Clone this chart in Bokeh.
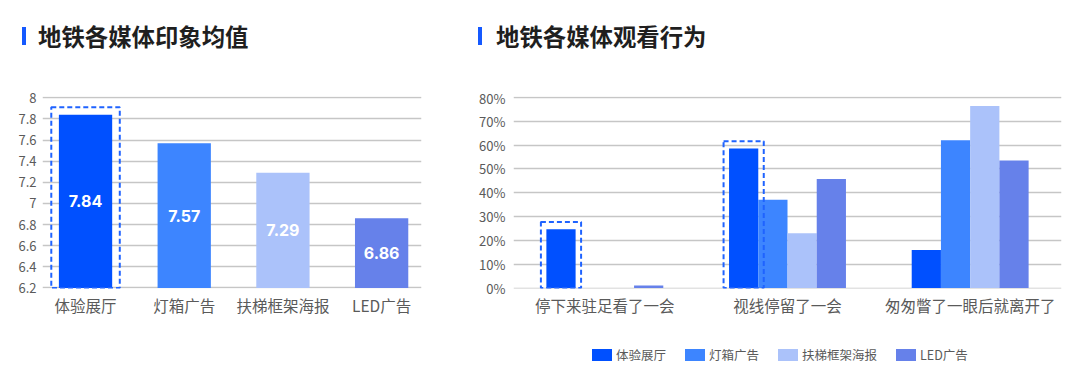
from bokeh.plotting import figure
from bokeh.models import (ColumnDataSource, FixedTicker, FactorRange, Range1d, Div)
from bokeh.transform import dodge
from bokeh.layouts import row, column
from bokeh.embed import file_html
from bokeh.resources import INLINE
from bokeh.core.properties import value

# ---------------- data ----------------
title_left = "地铁各媒体印象均值"
title_right = "地铁各媒体观看行为"

media = ["体验展厅", "灯箱广告", "扶梯框架海报", "LED广告"]
impression = [7.84, 7.57, 7.29, 6.86]
imp_base = 6.2
imp_ticks = [6.2, 6.4, 6.6, 6.8, 7.0, 7.2, 7.4, 7.6, 7.8, 8.0]
imp_tick_labels = ["6.2", "6.4", "6.6", "6.8", "7", "7.2", "7.4", "7.6", "7.8", "8"]
imp_highlight = [0]

behaviors = ["停下来驻足看了一会", "视线停留了一会", "匆匆瞥了一眼后就离开了"]
exp_hall = [24.7, 58.6, 16.0]
lightbox = [0.0, 37.1, 62.0]
escalator = [0.0, 23.0, 76.4]
led = [1.1, 45.8, 53.5]
pct_ticks = [0, 10, 20, 30, 40, 50, 60, 70, 80]
pct_tick_labels = ["0%", "10%", "20%", "30%", "40%", "50%", "60%", "70%", "80%"]
beh_highlight = [0, 1]   # groups where 体验展厅 is highlighted

colors = ["#0050FF", "#3D85FF", "#ABC2FA", "#6681EA"]
accent = "#1F63FF"
FONT = "Noto Sans CJK SC"
GRAY = "#5A5A5A"
GRID = "#C6C6C6"


def style(p, ystand):
    p.outline_line_color = None
    p.xgrid.grid_line_color = None
    p.ygrid.grid_line_color = GRID
    p.ygrid.grid_line_width = 1.3
    for ax in (p.xaxis[0], p.yaxis[0]):
        ax.axis_line_color = None
        ax.major_tick_line_color = None
        ax.minor_tick_line_color = None
        ax.major_tick_out = 0
        ax.major_tick_in = 0
        ax.minor_tick_out = 0
        ax.major_label_text_font = FONT
        ax.major_label_text_color = GRAY
    p.xaxis.major_label_text_font_size = "15.5px"
    p.xaxis.major_label_standoff = 5
    p.yaxis.major_label_text_font_size = "13px"
    p.yaxis.major_label_standoff = ystand


def title_div(text, width, bar_x, text_x):
    html = (
        f'<div style="position:relative;width:{width}px;height:88px;">'
        f'<div style="position:absolute;left:{bar_x}px;top:27px;width:4px;height:18px;'
        f'background:#1559FF;"></div>'
        f'<div style="position:absolute;left:{text_x}px;top:20px;height:32px;line-height:32px;'
        f"font-family:'{FONT}';font-weight:bold;font-size:23.4px;color:#1F1F1F;"
        f'white-space:nowrap;">{text}</div></div>'
    )
    return Div(text=html, width=width, height=88, margin=(0, 0, 0, 0))


def legend_div(labels, cols, width, left):
    items = "".join(
        f'<div style="display:flex;align-items:center;margin-right:19px;">'
        f'<span style="display:inline-block;width:20px;height:12px;background:{c};"></span>'
        f'<span style="margin-left:4px;font-family:\'{FONT}\';font-size:12.5px;'
        f'color:{GRAY};line-height:16px;white-space:nowrap;">{lab}</span></div>'
        for lab, c in zip(labels, cols))
    html = (f'<div style="position:relative;width:{width}px;height:40px;">'
            f'<div style="position:absolute;left:{left}px;top:8.5px;height:16px;'
            f'display:flex;align-items:center;">{items}</div></div>')
    return Div(text=html, width=width, height=40, margin=(0, 0, 0, 0))


# ---------------- left chart ----------------
W1 = 468
p1 = figure(width=W1, height=290, title=None,
            x_range=Range1d(-0.436, 3.404), y_range=Range1d(6.195, 8.012),
            output_backend="svg", toolbar_location=None,
            min_border_left=42, min_border_right=47, min_border_top=8, min_border_bottom=90)
style(p1, 6)
p1.yaxis.ticker = FixedTicker(ticks=imp_ticks)
p1.yaxis.major_label_overrides = dict(zip(imp_ticks, imp_tick_labels))
p1.xaxis.ticker = FixedTicker(ticks=list(range(len(media))))
p1.xaxis.major_label_overrides = dict(zip(range(len(media)), media))

src1 = ColumnDataSource(dict(
    x=list(range(len(media))), top=impression, bottom=[imp_base] * len(media),
    color=colors, label=[f"{v:.2f}" for v in impression],
    ymid=[(imp_base + v) / 2 for v in impression]))
p1.vbar(x="x", top="top", bottom="bottom", width=0.54, fill_color="color",
        line_color=None, source=src1)
p1.text(x="x", y="ymid", text="label", text_color="white", text_font=value("Inter"),
        text_font_style="bold", text_font_size="16px", text_align="center",
        text_baseline="middle", source=src1)

hl1 = ColumnDataSource(dict(x=imp_highlight,
                            top=[impression[i] + 0.07 for i in imp_highlight],
                            bottom=[imp_base] * len(imp_highlight)))
p1.quad(left=dodge("x", -0.347), right=dodge("x", 0.347), top="top", bottom="bottom",
        fill_alpha=0, line_color=accent, line_width=2, line_dash="5 3", source=hl1)

# ---------------- right chart ----------------
W2 = 604
p2 = figure(width=W2, height=250, title=None,
            x_range=FactorRange(*behaviors), y_range=Range1d(-0.2, 80.4),
            output_backend="svg", toolbar_location=None,
            min_border_left=45, min_border_right=11, min_border_top=8, min_border_bottom=50)
style(p2, 8)
p2.yaxis.ticker = FixedTicker(ticks=pct_ticks)
p2.yaxis.major_label_overrides = dict(zip(pct_ticks, pct_tick_labels))

src2 = ColumnDataSource(dict(cat=behaviors, s0=exp_hall, s1=lightbox, s2=escalator, s3=led))
offsets = [-0.24, -0.08, 0.08, 0.24]
for i, key in enumerate(["s0", "s1", "s2", "s3"]):
    p2.vbar(x=dodge("cat", offsets[i], range=p2.x_range), top=key, width=0.16,
            fill_color=colors[i], line_color=None, source=src2)

hl2 = ColumnDataSource(dict(cat=[behaviors[g] for g in beh_highlight],
                            top=[exp_hall[g] + 3.0 for g in beh_highlight],
                            bottom=[0] * len(beh_highlight)))
p2.quad(left=dodge("cat", offsets[0] - 0.11, range=p2.x_range),
        right=dodge("cat", offsets[0] + 0.11, range=p2.x_range),
        top="top", bottom="bottom", fill_alpha=0, line_color=accent, line_width=2,
        line_dash="5 3", source=hl2)

layout = row(column(title_div(title_left, W1, 22, 38), p1, spacing=0),
             column(title_div(title_right, W2, 10, 28), p2,
                    legend_div(media, colors, W2, 124), spacing=0),
             spacing=0)
open("out.html", "w").write(file_html(layout, INLINE))
